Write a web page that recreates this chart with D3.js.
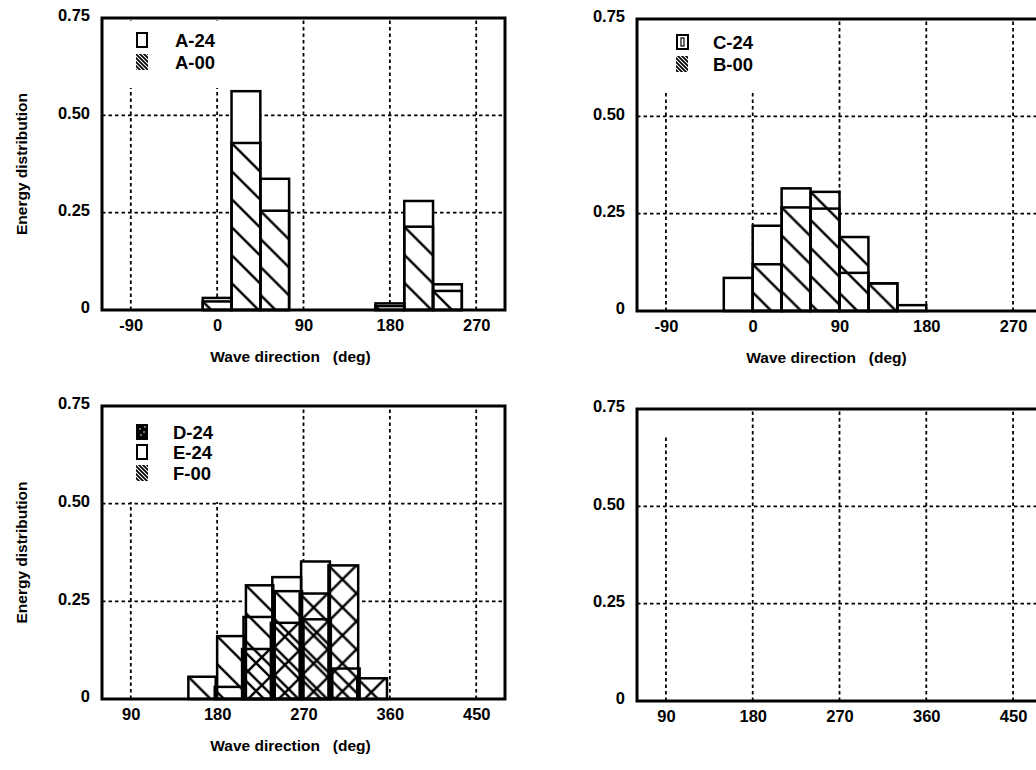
<!DOCTYPE html>
<html><head><meta charset="utf-8">
<script src="https://cdn.jsdelivr.net/npm/d3@7"></script>
<style>
body{margin:0;background:#fff}
text{font-family:"Liberation Sans",Arial,Helvetica,sans-serif;font-weight:bold;fill:#000}
</style>
</head><body>
<svg id="c" width="1036" height="770"></svg>
<script>
// ---------------- data ----------------
const yTicks = [0, 0.25, 0.5, 0.75];
const yTickLabels = ["0", "0.25", "0.50", "0.75"];
const xTicksTop = [-90, 0, 90, 180, 270];
const xTicksBottom = [90, 180, 270, 360, 450];

// top-left: bin centres (deg) and energy values
const tlBins = [0, 30, 60, 90, 120, 150, 180, 210, 240];
const tlA24  = [0.031, 0.562, 0.337, 0, 0, 0, 0.017, 0.280, 0.066];
const tlA00  = [0.022, 0.429, 0.255, 0, 0, 0, 0.010, 0.214, 0.049];

// top-right
const trBins = [-15, 15, 45, 75, 105, 135, 165];
const trC24  = [0.085, 0.219, 0.315, 0.263, 0.098, 0.071, 0.015];
const trB00  = [0, 0.120, 0.266, 0.306, 0.190, 0.071, 0];

// bottom-left
const blBins = [165, 195, 225, 255, 285, 315, 345];
const blD24  = [0, 0, 0.128, 0.195, 0.270, 0.342, 0.053];
const blE24  = [0, 0.031, 0.210, 0.312, 0.352, 0, 0];
const blF00  = [0.057, 0.161, 0.291, 0.276, 0.204, 0.078, 0];

const xTitle = "Wave direction\u00a0\u00a0 (deg)";
const yTitle = "Energy distribution";

// ---------------- layout ----------------
const svg = d3.select("#c");
const defs = svg.append("defs");

// legend patterns
const lp = defs.append("pattern").attr("id","legHatch").attr("patternUnits","userSpaceOnUse")
  .attr("width",4).attr("height",4);
lp.append("rect").attr("width",4).attr("height",4).attr("fill","#000");
lp.append("path").attr("d","M-1,-1L5,5M-1,3L1,5M3,-1L5,1").attr("stroke","#fff").attr("stroke-width",1.1);

const panels = [
  {id:"tl", x0:102, x1:505, y0:310, y1:18, xdom:[-120,300], xticks:xTicksTop, bins:tlBins,
   series:[{name:"A-24", vals:tlA24, kind:"white", leg:"white"},
           {name:"A-00", vals:tlA00, kind:"hatch", leg:"hatch"}],
   box:[103,290,21,88], legX:137, legTx:175, legY:[40,62], xtitle:true, ytitle:true},
  {id:"tr", x0:637, x1:1042, y0:311, y1:19, xdom:[-120,300], xticks:xTicksTop, bins:trBins,
   series:[{name:"C-24", vals:trC24, kind:"white", leg:"bar"},
           {name:"B-00", vals:trB00, kind:"hatch", leg:"hatch"}],
   box:[638,822,21,90], legX:677, legTx:713, legY:[42,64], xtitle:true, ytitle:false},
  {id:"bl", x0:102, x1:505, y0:699, y1:406, xdom:[60,480], xticks:xTicksBottom, bins:blBins,
   series:[{name:"D-24", vals:blD24, kind:"cross", leg:"dots", off:-4, w:31},
           {name:"E-24", vals:blE24, kind:"white", leg:"white", off:-2.5, w:30},
           {name:"F-00", vals:blF00, kind:"hatch", leg:"hatch", off:0, w:28.5}],
   box:[103,290,408,502], legX:137, legTx:173, legY:[432,452,473], xtitle:true, ytitle:true},
  {id:"br", x0:637, x1:1042, y0:701, y1:409, xdom:[60,480], xticks:xTicksBottom, bins:[],
   series:[], box:[638,740,410,435], legX:0, legTx:0, legY:[], xtitle:false, ytitle:false}
];

panels.forEach(p => {
  const x = d3.scaleLinear().domain(p.xdom).range([p.x0, p.x1]);
  const y = d3.scaleLinear().domain([0, 0.75]).range([p.y0, p.y1]);
  const g = svg.append("g");

  // gridlines
  g.append("g").selectAll("line.v").data(p.xticks).join("line")
    .attr("x1", d => x(d)).attr("x2", d => x(d)).attr("y1", p.y0).attr("y2", p.y1)
    .attr("stroke","#000").attr("stroke-width",1.8).attr("stroke-dasharray","3.5,3");
  g.append("g").selectAll("line.h").data([0.25, 0.5]).join("line")
    .attr("x1", p.x0).attr("x2", p.x1).attr("y1", d => y(d)).attr("y2", d => y(d))
    .attr("stroke","#000").attr("stroke-width",1.8).attr("stroke-dasharray","3.5,3");

  // legend background box
  g.append("rect").attr("x", p.box[0]).attr("y", p.box[2])
    .attr("width", p.box[1]-p.box[0]).attr("height", p.box[3]-p.box[2]).attr("fill","#fff");

  // bars
  const bars = [];
  p.series.forEach((s, si) => {
    const off = s.off || 0, w = s.w || 30;
    s.vals.forEach((v, i) => {
      if (v <= 0) return;
      const c = p.bins[i];
      const bx = x(c - 15 + off), bx2 = x(c - 15 + off + w);
      bars.push({s, si, i, bx, bw: bx2 - bx, by: y(v), bh: y(0) - y(v)});
    });
  });
  // white fills
  g.append("g").selectAll("rect").data(bars).join("rect")
    .attr("x", d => d.bx).attr("y", d => d.by).attr("width", d => d.bw).attr("height", d => d.bh)
    .attr("fill","#fff");
  // patterns
  bars.filter(d => d.s.kind !== "white").forEach(d => {
    const id = `p_${p.id}_${d.si}_${d.i}`;
    const pat = defs.append("pattern").attr("id", id).attr("patternUnits","userSpaceOnUse")
      .attr("x", d.bx).attr("y", d.by).attr("width", 28).attr("height", 28);
    let path = "M-4,-4L32,32M-4,24L4,32M24,-4L32,4";
    if (d.s.kind === "cross") path += "M32,-4L-4,32M4,-4L-4,4M32,24L24,32";
    pat.append("path").attr("d", path).attr("stroke","#000").attr("stroke-width",2.4).attr("fill","none");
    d.pid = id;
  });
  g.append("g").selectAll("rect").data(bars.filter(d => d.pid)).join("rect")
    .attr("x", d => d.bx).attr("y", d => d.by).attr("width", d => d.bw).attr("height", d => d.bh)
    .attr("fill", d => `url(#${d.pid})`);
  // outlines
  g.append("g").selectAll("rect").data(bars).join("rect")
    .attr("x", d => d.bx).attr("y", d => d.by).attr("width", d => d.bw).attr("height", d => d.bh)
    .attr("fill","none").attr("stroke","#000").attr("stroke-width",2.5);

  // frame
  g.append("rect").attr("x", p.x0).attr("y", p.y1).attr("width", p.x1 - p.x0).attr("height", p.y0 - p.y1)
    .attr("fill","none").attr("stroke","#000").attr("stroke-width",3);

  // axes (labels only)
  const yAxis = d3.axisLeft(y).tickValues(yTicks).tickSize(0).tickPadding(0)
    .tickFormat((d, i) => yTickLabels[i]);
  const ya = g.append("g").attr("transform", `translate(${p.x0 - 12},0)`).call(yAxis);
  ya.select(".domain").remove();
  ya.selectAll("text").attr("font-size", 16.5).attr("dy", "0.3em").attr("y", -2)
    .style("font-family",'"Liberation Sans",Arial,sans-serif').style("font-weight","bold");

  const xAxis = d3.axisBottom(x).tickValues(p.xticks).tickSize(0).tickPadding(0).tickFormat(d => String(d));
  const xa = g.append("g").attr("transform", `translate(0,${p.y0 + 9})`).call(xAxis);
  xa.select(".domain").remove();
  xa.selectAll("text").attr("font-size", 16.5).attr("dy","0.71em").attr("y",0)
    .style("font-family",'"Liberation Sans",Arial,sans-serif').style("font-weight","bold");

  if (p.xtitle) {
    g.append("text").attr("x", (p.x0 + p.x1)/2 - 13).attr("y", p.y0 + 52)
      .attr("text-anchor","middle").attr("font-size", 15.5).style("white-space","pre").text(xTitle);
  }
  if (p.ytitle) {
    g.append("text").attr("transform", `translate(27,${(p.y0 + p.y1)/2}) rotate(-90)`)
      .attr("text-anchor","middle").attr("font-size", 15.5).text(yTitle);
  }

  // legend
  p.series.forEach((s, si) => {
    const cy = p.legY[si];
    const lx = p.legX, lw = 10, lh = 14, ly = cy - lh/2;
    if (s.leg === "white") {
      g.append("rect").attr("x", lx).attr("y", ly).attr("width", lw).attr("height", lh)
        .attr("fill","#fff").attr("stroke","#000").attr("stroke-width",2);
    } else if (s.leg === "hatch") {
      g.append("rect").attr("x", lx - 1).attr("y", ly - 1).attr("width", lw + 2).attr("height", lh + 2)
        .attr("fill","url(#legHatch)");
    } else if (s.leg === "bar") {
      g.append("rect").attr("x", lx).attr("y", ly).attr("width", lw + 1).attr("height", lh)
        .attr("fill","#fff").attr("stroke","#000").attr("stroke-width",2);
      g.append("rect").attr("x", lx + 4).attr("y", ly + 3).attr("width", 3).attr("height", lh - 6)
        .attr("fill","#fff").attr("stroke","#000").attr("stroke-width",1.2);
    } else if (s.leg === "dots") {
      g.append("rect").attr("x", lx - 1).attr("y", ly - 1).attr("width", lw + 2).attr("height", lh + 2)
        .attr("fill","#000");
      [[3,4],[7,7],[4,10],[8,2]].forEach(([dx,dy]) =>
        g.append("circle").attr("cx", lx + dx).attr("cy", ly + dy).attr("r", 0.8).attr("fill","#fff"));
    }
    g.append("text").attr("x", p.legTx).attr("y", cy).attr("dy","0.36em")
      .attr("font-size", 18.5).text(s.name);
  });
});
</script>
</body></html>
